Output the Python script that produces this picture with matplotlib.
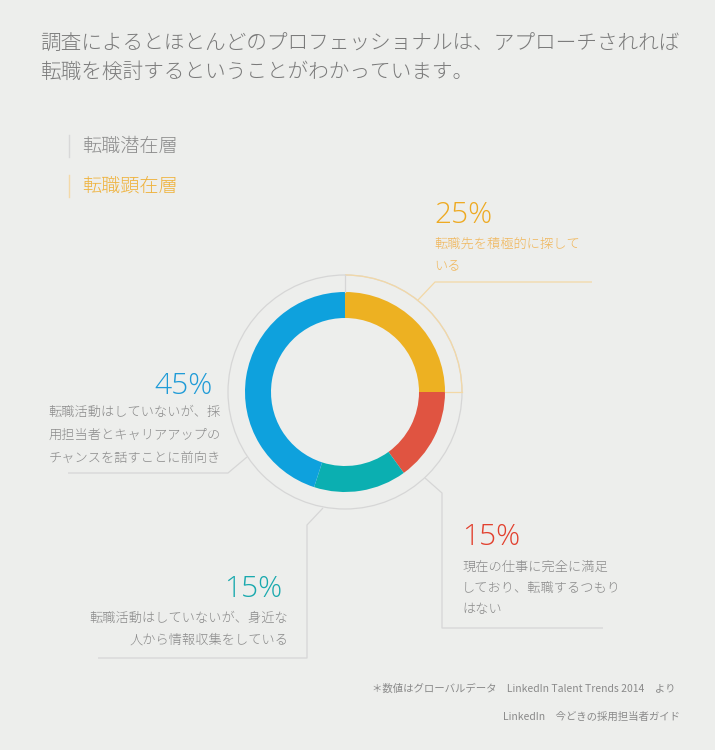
import matplotlib
matplotlib.use('Agg')
import matplotlib.pyplot as plt
from matplotlib.patches import Circle, Arc
import numpy as np

# ---------------- data ----------------
categories = ['転職先を積極的に探している',
              '現在の仕事に完全に満足しており、転職するつもりはない',
              '転職活動はしていないが、身近な人から情報収集をしている',
              '転職活動はしていないが、採用担当者とキャリアアップのチャンスを話すことに前向き']
values = [25, 15, 15, 45]
seg_colors = ['#EDB122', '#E05441', '#0BAFB1', '#0EA1DD']
pct_colors = ['#EEAA22', '#E2402E', '#19A9AE', '#1F9BD7']
desc_lines = [['転職先を積極的に探して', 'いる'],
              ['現在の仕事に完全に満足', 'しており、転職するつもり', 'はない'],
              ['転職活動はしていないが、身近な', '人から情報収集をしている'],
              ['転職活動はしていないが、採', '用担当者とキャリアアップの', 'チャンスを話すことに前向き']]
title_lines = ['調査によるとほとんどのプロフェッショナルは、アプローチされれば',
               '転職を検討するということがわかっています。']
legend_labels = ['転職潜在層', '転職顕在層']
legend_colors = ['#8C8C8C', '#EFB23C']
legend_bar_colors = ['#D8D8D8', '#F3D9A8']
footnotes = ['＊数値はグローバルデータ　LinkedIn Talent Trends 2014　より',
             'LinkedIn　今どきの採用担当者ガイド']

# ---------------- layout ----------------
BG = '#EDEEEC'
W, H = 715, 750
CX, CY = 345, 392
R_OUT, RING_W, R_GUIDE = 100, 26, 117
JP = ['Noto Sans CJK JP', 'DejaVu Sans']
NUM = ['Open Sans', 'DejaVu Sans']
GRAY_LINE = '#D6D6D6'
ORANGE_LINE = '#F3D8A6'
DESC_GRAY = '#8A8A8A'
DESC_ORANGE = '#F0B65A'

# label positions: (pct x, pct y, align, desc x, desc y0, line step)
label_pos = [(434, 215, 'left', 434, 244, 23),
             (462, 537, 'left', 462, 567, 21),
             (282, 589, 'right', 288, 618, 22),
             (213, 386, 'right', 221, 412, 23)]
leaders = [[(418, 300), (435, 282), (592, 282)],
           [(425, 478), (442, 493), (442, 628), (603, 628)],
           [(323, 508), (307, 525), (307, 658), (98, 658)],
           [(247, 457), (228, 473), (68, 473)]]
leader_colors = [ORANGE_LINE, GRAY_LINE, GRAY_LINE, GRAY_LINE]


def Y(y):
    return H - y


fig = plt.figure(figsize=(W / 100, H / 100), dpi=100, facecolor=BG)
ax = fig.add_axes([0, 0, 1, 1])
ax.set_facecolor(BG)

# donut
ax.pie(values, colors=seg_colors, startangle=90, counterclock=False,
       center=(CX, Y(CY)), radius=R_OUT, frame=True,
       wedgeprops=dict(width=RING_W, linewidth=0))
ax.set_xlim(0, W)
ax.set_ylim(0, H)
ax.set_aspect('equal')
ax.axis('off')

# guide circle
ax.add_patch(Circle((CX, Y(CY)), R_GUIDE, fill=False, ec=GRAY_LINE, lw=0.9, zorder=1))
# orange arc over the first segment
a0 = 90
a1 = 90 - 360 * values[0] / sum(values)
ax.add_patch(Arc((CX, Y(CY)), 2 * R_GUIDE, 2 * R_GUIDE, theta1=a1, theta2=a0,
                 ec=ORANGE_LINE, lw=0.9, zorder=2))
for ang, col in [(a0, GRAY_LINE), (a1, ORANGE_LINE)]:
    t = np.deg2rad(ang)
    ax.plot([CX + R_OUT * np.cos(t), CX + R_GUIDE * np.cos(t)],
            [Y(CY) + R_OUT * np.sin(t), Y(CY) + R_GUIDE * np.sin(t)],
            color=col, lw=0.9, zorder=2)

# leader lines
for pts, col in zip(leaders, leader_colors):
    xs = [p[0] for p in pts]
    ys = [Y(p[1]) for p in pts]
    ax.plot(xs, ys, color=col, lw=0.9, zorder=1, solid_capstyle='butt')

# labels
for i, v in enumerate(values):
    px, py, ha, dx, dy, step = label_pos[i]
    ax.text(px, Y(py), f'{v}%', color=pct_colors[i], fontsize=21.5,
            family=NUM, fontweight='light', ha=ha, va='center')
    dcol = DESC_ORANGE if i == 0 else DESC_GRAY
    for j, line in enumerate(desc_lines[i]):
        ax.text(dx, Y(dy + j * step), line, color=dcol, fontsize=9.5,
                family=JP, fontweight='light', ha=ha, va='center')

# title
for j, line in enumerate(title_lines):
    ax.text(40, Y(44 + j * 28), line, color='#7A7A7A', fontsize=14.9,
            family=JP, fontweight='light', ha='left', va='center')

# legend
for j, lab in enumerate(legend_labels):
    yc = 146 + j * 40
    ax.plot([69, 69], [Y(yc - 11), Y(yc + 11)], color=legend_bar_colors[j], lw=1)
    ax.text(82, Y(yc), lab, color=legend_colors[j], fontsize=13.8,
            family=JP, fontweight='light', ha='left', va='center')

# footnotes
ax.text(675, Y(689), footnotes[0], color='#8A8A8A', fontsize=7.5,
        family=JP, ha='right', va='center')
ax.text(680, Y(717), footnotes[1], color='#8A8A8A', fontsize=7.5,
        family=JP, ha='right', va='center')

fig.savefig('out.png', dpi=100, facecolor=BG)
